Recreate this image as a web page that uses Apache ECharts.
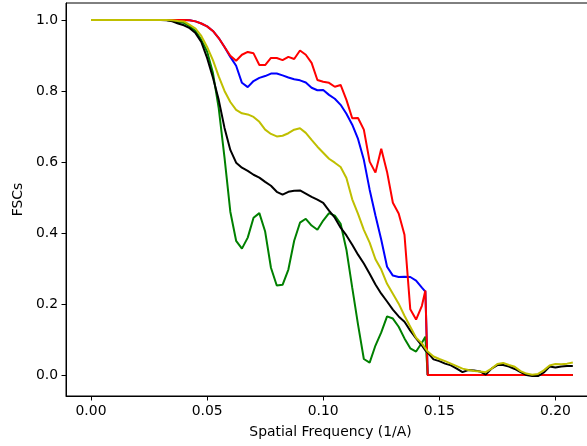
<!DOCTYPE html>
<html>
<head>
<meta charset="utf-8">
<script src="https://cdn.jsdelivr.net/npm/echarts@6/dist/echarts.min.js"></script>
<style>
html,body{margin:0;padding:0;background:#fff;}
#chart{width:587px;height:446px;}
</style>
</head>
<body>
<div id="chart"></div>
<script>
// Spatial frequency samples (1/A)
const freq = [0, 0.0025, 0.005, 0.0075, 0.01, 0.0125, 0.015, 0.0175, 0.02, 0.0225, 0.025, 0.0275, 0.03, 0.0325, 0.035, 0.0375, 0.04, 0.0425, 0.045, 0.0475, 0.05, 0.0525, 0.055, 0.0575, 0.06, 0.0625, 0.065, 0.0675, 0.07, 0.0725, 0.075, 0.0775, 0.08, 0.0825, 0.085, 0.0875, 0.09, 0.0925, 0.095, 0.0975, 0.1, 0.1025, 0.105, 0.1075, 0.11, 0.1125, 0.115, 0.1175, 0.12, 0.1225, 0.125, 0.1275, 0.13, 0.1325, 0.135, 0.1375, 0.14, 0.1425, 0.144, 0.145, 0.1475, 0.15, 0.1525, 0.155, 0.1575, 0.16, 0.1625, 0.165, 0.1675, 0.17, 0.1725, 0.175, 0.1775, 0.18, 0.1825, 0.185, 0.1875, 0.19, 0.1925, 0.195, 0.1975, 0.2, 0.2025, 0.205, 0.2075];

const fscBlue = [1,1,1,1,1,1,1,1,1,1,1,1,1,1,1,1, 1.0, 0.999, 0.996, 0.990, 0.982, 0.969, 0.949, 0.924, 0.896, 0.871, 0.823, 0.811, 0.828, 0.837, 0.842, 0.849, 0.849, 0.844, 0.838, 0.833, 0.830, 0.824, 0.809, 0.802, 0.803, 0.789, 0.778, 0.761, 0.736, 0.705, 0.665, 0.606, 0.522, 0.449, 0.381, 0.305, 0.280, 0.276, 0.277, 0.276, 0.266, 0.246, 0.235, 0,0,0,0,0,0,0,0,0,0,0,0,0,0,0,0,0,0,0,0,0,0,0,0,0,0];

const fscGreen = [1,1,1,1,1,1,1,1,1,1,1,1,1, 1.0, 0.998, 0.994, 0.992, 0.982, 0.969, 0.944, 0.911, 0.851, 0.752, 0.612, 0.460, 0.378, 0.356, 0.387, 0.443, 0.456, 0.404, 0.302, 0.252, 0.254, 0.297, 0.378, 0.429, 0.440, 0.421, 0.409, 0.435, 0.456, 0.449, 0.426, 0.353, 0.246, 0.142, 0.045, 0.035, 0.083, 0.120, 0.165, 0.159, 0.136, 0.103, 0.075, 0.066, 0.091, 0.108, 0,0,0,0,0,0,0,0,0,0,0,0,0,0,0,0,0,0,0,0,0,0,0,0,0,0];

const fscRed = [1,1,1,1,1,1,1,1,1,1,1,1,1,1,1,1, 1.0, 0.999, 0.996, 0.990, 0.982, 0.969, 0.949, 0.924, 0.899, 0.885, 0.902, 0.910, 0.906, 0.873, 0.873, 0.893, 0.893, 0.887, 0.896, 0.890, 0.914, 0.902, 0.879, 0.831, 0.826, 0.823, 0.812, 0.817, 0.775, 0.723, 0.724, 0.691, 0.601, 0.570, 0.637, 0.572, 0.485, 0.455, 0.395, 0.185, 0.156, 0.195, 0.238, 0,0,0,0,0,0,0,0,0,0,0,0,0,0,0,0,0,0,0,0,0,0,0,0,0,0];

const fscBlack = [1,1,1,1,1,1,1,1,1,1,1,1,1, 0.999, 0.996, 0.990, 0.985, 0.977, 0.963, 0.938, 0.893, 0.838, 0.775, 0.696, 0.634, 0.598, 0.584, 0.575, 0.564, 0.556, 0.544, 0.533, 0.516, 0.508, 0.516, 0.519, 0.520, 0.511, 0.502, 0.494, 0.485, 0.463, 0.443, 0.415, 0.393, 0.367, 0.339, 0.314, 0.285, 0.255, 0.229, 0.207, 0.184, 0.165, 0.150, 0.125, 0.103, 0.083, 0.069, 0.063, 0.044, 0.039, 0.032, 0.027, 0.018, 0.008, 0.014, 0.013, 0.010, 0.001, 0.018, 0.028, 0.028, 0.024, 0.017, 0.008, 0.000, -0.003, -0.003, 0.007, 0.024, 0.021, 0.024, 0.025, 0.025];

const fscYellow = [1,1,1,1,1,1,1,1,1,1,1,1,1, 1.0, 0.999, 0.997, 0.996, 0.986, 0.976, 0.955, 0.924, 0.887, 0.841, 0.800, 0.769, 0.747, 0.737, 0.734, 0.727, 0.713, 0.691, 0.679, 0.672, 0.674, 0.681, 0.691, 0.695, 0.682, 0.662, 0.643, 0.626, 0.609, 0.598, 0.586, 0.555, 0.495, 0.454, 0.409, 0.373, 0.326, 0.297, 0.257, 0.229, 0.201, 0.167, 0.136, 0.105, 0.089, 0.075, 0.066, 0.052, 0.045, 0.039, 0.032, 0.025, 0.018, 0.014, 0.011, 0.010, 0.008, 0.018, 0.031, 0.034, 0.028, 0.023, 0.011, 0.004, 0.001, 0.003, 0.013, 0.027, 0.031, 0.030, 0.032, 0.035];

const xTicks = [0, 0.05, 0.10, 0.15, 0.20];
const yTicks = [0, 0.2, 0.4, 0.6, 0.8, 1.0];

const seriesDefs = [
  {name: 'blue', values: fscBlue, color: '#0000ff'},
  {name: 'green', values: fscGreen, color: '#008000'},
  {name: 'red', values: fscRed, color: '#ff0000'},
  {name: 'black', values: fscBlack, color: '#000000'},
  {name: 'yellow', values: fscYellow, color: '#bfbf00'}
];

const font = 'DejaVu Sans';
const chart = echarts.init(document.getElementById('chart'), null, {renderer: 'canvas'});
chart.setOption({
  animation: false,
  backgroundColor: '#ffffff',
  grid: {left: 66, top: 3, width: 529, height: 393, outerBoundsMode: 'none', containLabel: false,
         show: true, borderColor: '#000', borderWidth: 1, backgroundColor: 'transparent'},
  xAxis: {
    type: 'value', min: -0.010767, max: 0.21705,
    name: 'Spatial Frequency (1/A)', nameLocation: 'middle', nameGap: 29,
    nameTextStyle: {fontFamily: font, fontSize: 13.9, color: '#000'},
    axisLine: {show: true, onZero: false, lineStyle: {color: '#000', width: 1}},
    axisTick: {show: true, inside: false, length: 4.5, lineStyle: {color: '#000', width: 1}, customValues: xTicks},
    axisLabel: {show: true, margin: 8, fontFamily: font, fontSize: 13.9, color: '#000', customValues: xTicks, formatter: v => v.toFixed(2)},
    splitLine: {show: false}
  },
  yAxis: {
    type: 'value', min: -0.05916, max: 1.0478,
    name: 'FSCs', nameLocation: 'middle', nameGap: 40,
    nameTextStyle: {fontFamily: font, fontSize: 13.9, color: '#000'},
    axisLine: {show: true, onZero: false, lineStyle: {color: '#000', width: 1}},
    axisTick: {show: true, inside: false, length: 4.5, lineStyle: {color: '#000', width: 1}, customValues: yTicks},
    axisLabel: {show: true, margin: 8, fontFamily: font, fontSize: 13.9, color: '#000', customValues: yTicks, formatter: v => v.toFixed(1)},
    splitLine: {show: false}
  },
  series: seriesDefs.map(s => ({
    type: 'line', name: s.name,
    data: freq.map((f, i) => [f, s.values[i]]),
    showSymbol: false, symbol: 'none',
    lineStyle: {color: s.color, width: 2},
    itemStyle: {color: s.color},
    clip: true
  }))
});
</script>
</body>
</html>
